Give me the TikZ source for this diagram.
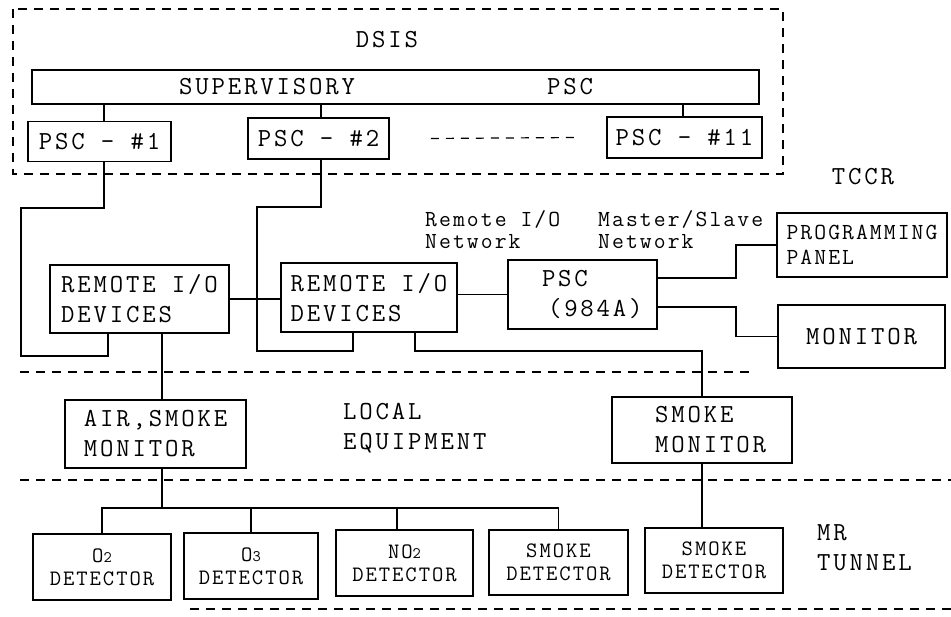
\documentclass[tikz,border=0pt]{standalone}
\usepackage{fontspec}
\newfontfamily\tw[LetterSpace=11]{Latin Modern Mono}
\newfontfamily\tws[LetterSpace=9]{Latin Modern Mono}
\begin{document}
\begin{tikzpicture}[x=1pt,y=-1pt,
  box/.style={draw, line width=1.6pt, inner sep=0pt, align=left, font=\tw\fontsize{26}{30}\selectfont},
  det/.style={draw, line width=1.6pt, inner sep=0pt, align=center, font=\tws\fontsize{22}{23}\selectfont},
  lbl/.style={inner sep=0pt, align=left, font=\tw\fontsize{26}{30}\selectfont},
  sml/.style={inner sep=0pt, align=left, font=\tws\fontsize{23}{22}\selectfont},
  wire/.style={line width=1.6pt},
  zone/.style={line width=1.5pt, dash pattern=on 9pt off 7pt},
  gap/.style={line width=1.2pt, dash pattern=on 8pt off 7pt},
]
\fill[white] (0,0) rectangle (951,617);
\useasboundingbox (0,0) rectangle (951,617);

% zones
\draw[zone] (13,9) rectangle (783,174);
\draw[zone] (20,372) -- (753,372);
\draw[zone] (20,480) -- (951,480);
\draw[zone] (190,609) -- (951,609);

% DSIS
\node[lbl] (dsis) at (387,40) {DSIS};
\node[box, minimum width=727pt, minimum height=34pt] (sup) at (395.5,87) {};
\node[lbl] (supt) at (267,87) {SUPERVISORY};
\node[lbl] (supp) at (570,87) {PSC};
\node[box, minimum width=143pt, minimum height=40pt] (p1) at (99.5,141.5) {PSC - \#1};
\node[box, minimum width=141pt, minimum height=41pt] (p2) at (318.5,138.5) {PSC - \#2};
\node[box, minimum width=155pt, minimum height=41pt] (p11) at (684.5,137.5) {PSC - \#11};
\node[lbl] (tccr) at (863,177) {TCCR};

% TCCR
\node[box, minimum width=179pt, minimum height=68pt] (r1) at (139.5,299) {REMOTE I/O\\DEVICES};
\node[box, minimum width=176pt, minimum height=69pt] (r2) at (369,297.5) {REMOTE I/O\\DEVICES};
\node[box, minimum width=149pt, minimum height=69pt, text width=125pt] (psc) at (582.5,294.5) {\hspace*{22pt}PSC\\\hspace*{28pt}(984A)};
\node[box, font=\tws\fontsize{23}{25}\selectfont, minimum width=170pt, minimum height=64pt] (prog) at (862,245) {PROGRAMMING\\PANEL};
\node[box, minimum width=167pt, minimum height=63pt] (mon) at (861.5,336.5) {MONITOR};
\node[sml, anchor=west] (rion) at (425,230) {Remote I/O\\Network};
\node[sml, anchor=west] (msn) at (598,230) {Master/Slave\\Network};

% local
\node[box, minimum width=181pt, minimum height=68pt] (asm) at (155.5,434) {AIR,SMOKE\\MONITOR};
\node[lbl, anchor=west] (loc) at (343,428) {LOCAL\\EQUIPMENT};
\node[box, minimum width=180pt, minimum height=66pt] (smon) at (702,430) {\hspace*{17pt}SMOKE\\\hspace*{17pt}MONITOR};

% tunnel
\node[det, minimum width=138pt, minimum height=66pt] (d1) at (102,567) {O{\fontsize{16}{16}\selectfont 2}\\DETECTOR};
\node[det, minimum width=134pt, minimum height=66pt] (d2) at (251,566) {O{\fontsize{16}{16}\selectfont 3}\\DETECTOR};
\node[det, minimum width=137pt, minimum height=66pt] (d3) at (404.5,563) {NO{\fontsize{16}{16}\selectfont 2}\\DETECTOR};
\node[det, minimum width=139pt, minimum height=65pt] (d4) at (558.5,562.5) {SMOKE\\DETECTOR};
\node[det, minimum width=138pt, minimum height=65pt] (d5) at (714,560.5) {SMOKE\\DETECTOR};
\node[lbl, anchor=west] (mr) at (817,548) {MR\\TUNNEL};

% connectors
\coordinate (c1) at ([xshift=4.5pt]p1.south);
\coordinate (c2) at ([xshift=2.5pt]p2.south);
\coordinate (c11) at ([xshift=-1.5pt]p11.north);
\draw[wire] (c1 |- sup.south) -- (c1 |- p1.north);
\draw[wire] (c2 |- sup.south) -- (c2 |- p2.north);
\draw[wire] (c11 |- sup.south) -- (c11);
\draw[gap] ([xshift=41pt]p2.east) -- ([xshift=-29pt]p11.west);

\draw[wire] (c1) -- ++(0,46) -- ++(-83,0) -- ++(0,148) -- ++(87,0) -- ([xshift=-31.5pt]r1.south);
\draw[wire] (c2) -- ++(0,47) -- ++(-64,0) -- ++(0,144) -- ++(96,0) -- ([xshift=-16pt]r2.south);

\draw[wire] (r1.east) -- (r1.east -| r2.west);
\draw[wire] (r2.east |- psc.west) -- (psc.west);
\draw[wire] ([yshift=16.5pt]psc.east) -- ++(78,0) |- (prog.west);
\draw[wire] ([yshift=-12.5pt]psc.east) -- ++(78,0) |- (mon.west);
\draw[wire] ([xshift=46pt]r2.south) -- ++(0,18) -| (smon.north);

\coordinate (c3) at ([xshift=22.5pt]r1.south);
\draw[wire] (c3) -- (c3 |- asm.north);

\coordinate (c4) at ([xshift=6.5pt]asm.south);
\coordinate (bus) at ([yshift=-39pt]c4);
\draw[wire] (c4) -- (bus);
\draw[wire] (d1.north) |- (bus) -| (d4.north);
\draw[wire] (d2.north) -- (d2.north |- bus);
\coordinate (c5) at ([xshift=-7.5pt]d3.north);
\draw[wire] (c5) -- (c5 |- bus);
\draw[wire] (smon.south) -- (smon.south |- d5.north);
\end{tikzpicture}
\end{document}
